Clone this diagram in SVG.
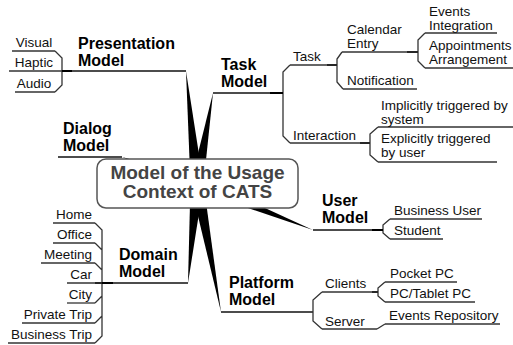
<svg xmlns="http://www.w3.org/2000/svg" width="513" height="345" viewBox="0 0 513 345">
  <style>
    text { font-family: "Liberation Sans", Arial, sans-serif; fill: #111; }
    .main { font-size: 16px; font-weight: bold; fill: #000; }
    .sub { font-size: 13.5px; }
    .end { text-anchor: end; }
    .mid { text-anchor: middle; }
    .center { font-size: 19px; font-weight: bold; fill: #444; text-anchor: middle; }
    .ul { fill: none; stroke: #333; stroke-width: 1.3; }
    .branch { fill: none; stroke: #111; stroke-width: 1.4; }
    .joint { stroke: #000; stroke-width: 2.2; }
    .spike { fill: #000; }
  </style>

  <!-- connectors: tapered spikes from the hub, brackets and joints -->
  <g id="connectors">
    <polygon class="spike" points="186,71 203.5,183.4 190.5,184.6"/>
    <polygon class="spike" points="213,93 203.4,185.1 190.6,182.9"/>
    <polygon class="spike" points="122,157 199.2,177.9 194.8,190.1"/>
    <polygon class="spike" points="188,283 190.5,183.4 203.5,184.6"/>
    <polygon class="spike" points="221,312 190.6,185.2 203.4,182.8"/>
    <polygon class="spike" points="313,230 194.6,190 199.4,178"/>

    <!-- main branch lines -->
    <path class="branch" d="M62,71 H186"/>
    <path class="branch" d="M213,93 H283"/>
    <path class="branch" d="M58,157 H122"/>
    <path class="branch" d="M102,283 H188"/>
    <path class="branch" d="M221,312 H313"/>
    <path class="branch" d="M313,230 H383"/>

    <!-- brackets -->
    <path class="ul" d="M55,51 L62,58 V85 L55,92"/>
    <path class="ul" d="M290,65 L283,72 V136 L290,143"/>
    <path class="ul" d="M342,52 L337,59 V82 L343,89"/>
    <path class="ul" d="M425,33 L418,40 V61 L425,68"/>
    <path class="ul" d="M378,127 L370,134 V155 L378,162"/>
    <path class="ul" d="M390,219 L383,225 V233 L390,239"/>
    <path class="ul" d="M322,292 L313,300 V321 L322,329"/>
    <path class="ul" d="M385,282 L378,288 V296 L385,302"/>
    <path class="ul" d="M377,329 L385,324"/>
    <path class="ul" d="M95,223 L102,230 V336 L95,343 M95,243 L102,250 M95,263 L102,270 M95,303 L102,296 M95,323 L102,316"/>

    <!-- joints where a branch meets its bracket -->
    <path class="joint" d="M62,71 H72 M270,93 H283 M327,65 H337 M407,52 H418 M360,143 H370 M372,230 H383 M372,292 H378 M95,283 H113"/>
  </g>

  <!-- hub -->
  <g id="hub">
    <rect x="97" y="159" width="201" height="49" rx="9" ry="9" fill="#fff" stroke="#555" stroke-width="1.5"/>
    <text class="center" x="197.5" y="179">Model of the Usage</text>
    <text class="center" x="197.5" y="198">Context of CATS</text>
  </g>

  <!-- Presentation Model -->
  <g id="presentation-model">
    <text class="main" x="78" y="48.5">Presentation</text>
    <text class="main" x="78" y="65.5">Model</text>
  </g>
  <g id="visual">
    <path class="ul" d="M12,51 H55"/>
    <text class="sub mid" x="34" y="47">Visual</text>
  </g>
  <g id="haptic">
    <path class="ul" d="M9,71 H62"/>
    <text class="sub mid" x="34" y="67">Haptic</text>
  </g>
  <g id="audio">
    <path class="ul" d="M15,92 H55"/>
    <text class="sub mid" x="34" y="87.5">Audio</text>
  </g>

  <!-- Task Model -->
  <g id="task-model">
    <text class="main" x="221" y="70">Task</text>
    <text class="main" x="221" y="87">Model</text>
  </g>
  <g id="task">
    <path class="ul" d="M290,65 H337"/>
    <text class="sub" x="293" y="61">Task</text>
  </g>
  <g id="calendar-entry">
    <path class="ul" d="M342,52 H418"/>
    <text class="sub" x="347" y="34">Calendar</text>
    <text class="sub" x="347" y="48">Entry</text>
  </g>
  <g id="events-integration">
    <path class="ul" d="M425,33 H497"/>
    <text class="sub" x="429" y="16">Events</text>
    <text class="sub" x="429" y="30">Integration</text>
  </g>
  <g id="appointments-arrangement">
    <path class="ul" d="M425,68 H513"/>
    <text class="sub" x="429" y="50">Appointments</text>
    <text class="sub" x="429" y="64">Arrangement</text>
  </g>
  <g id="notification">
    <path class="ul" d="M343,89 H417"/>
    <text class="sub" x="347" y="85">Notification</text>
  </g>
  <g id="interaction">
    <path class="ul" d="M290,143 H370"/>
    <text class="sub" x="293" y="140">Interaction</text>
  </g>
  <g id="implicit">
    <path class="ul" d="M378,127 H513"/>
    <text class="sub" x="381" y="110">Implicitly triggered by</text>
    <text class="sub" x="381" y="124">system</text>
  </g>
  <g id="explicit">
    <path class="ul" d="M378,162 H497"/>
    <text class="sub" x="381" y="143">Explicitly triggered</text>
    <text class="sub" x="381" y="157">by user</text>
  </g>

  <!-- Dialog Model -->
  <g id="dialog-model">
    <text class="main" x="63" y="134">Dialog</text>
    <text class="main" x="63" y="151">Model</text>
  </g>

  <!-- User Model -->
  <g id="user-model">
    <text class="main" x="322" y="206">User</text>
    <text class="main" x="322" y="223">Model</text>
  </g>
  <g id="business-user">
    <path class="ul" d="M390,219 H482"/>
    <text class="sub" x="394" y="215">Business User</text>
  </g>
  <g id="student">
    <path class="ul" d="M390,239 H443"/>
    <text class="sub" x="394" y="235">Student</text>
  </g>

  <!-- Platform Model -->
  <g id="platform-model">
    <text class="main" x="229" y="288">Platform</text>
    <text class="main" x="229" y="305">Model</text>
  </g>
  <g id="clients">
    <path class="ul" d="M322,292 H378"/>
    <text class="sub" x="325" y="288">Clients</text>
  </g>
  <g id="pocket-pc">
    <path class="ul" d="M385,282 H457"/>
    <text class="sub" x="390" y="278">Pocket PC</text>
  </g>
  <g id="pc-tablet-pc">
    <path class="ul" d="M385,302 H475"/>
    <text class="sub" x="390" y="298">PC/Tablet PC</text>
  </g>
  <g id="server">
    <path class="ul" d="M322,329 H377"/>
    <text class="sub" x="325" y="326">Server</text>
  </g>
  <g id="events-repository">
    <path class="ul" d="M385,324 H500"/>
    <text class="sub" x="389" y="320">Events Repository</text>
  </g>

  <!-- Domain Model -->
  <g id="domain-model">
    <text class="main" x="119" y="260">Domain</text>
    <text class="main" x="119" y="277">Model</text>
  </g>
  <g id="home">
    <path class="ul" d="M53,223 H95"/>
    <text class="sub end" x="92" y="219">Home</text>
  </g>
  <g id="office">
    <path class="ul" d="M53,243 H95"/>
    <text class="sub end" x="92" y="239">Office</text>
  </g>
  <g id="meeting">
    <path class="ul" d="M41,263 H95"/>
    <text class="sub end" x="92" y="259">Meeting</text>
  </g>
  <g id="car">
    <path class="ul" d="M67,283 H102"/>
    <text class="sub end" x="92" y="279">Car</text>
  </g>
  <g id="city">
    <path class="ul" d="M67,303 H95"/>
    <text class="sub end" x="92" y="299">City</text>
  </g>
  <g id="private-trip">
    <path class="ul" d="M22,323 H95"/>
    <text class="sub end" x="92" y="319">Private Trip</text>
  </g>
  <g id="business-trip">
    <path class="ul" d="M8,343 H95"/>
    <text class="sub end" x="92" y="339">Business Trip</text>
  </g>
</svg>
